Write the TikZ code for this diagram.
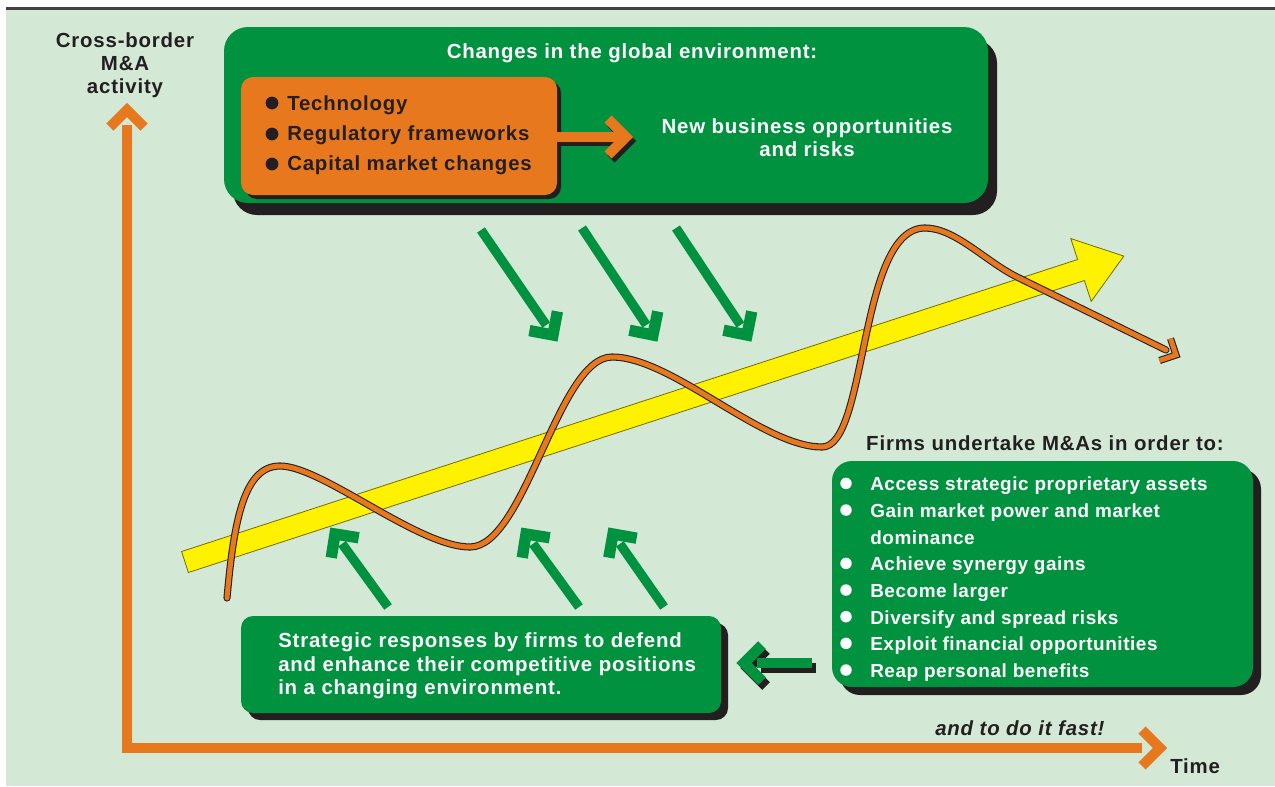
\documentclass[tikz,border=0pt]{standalone}
\usepackage{fontspec}
\setmainfont{Liberation Sans}[LetterSpace=4]
\newfontfamily\listfont{Liberation Sans}[LetterSpace=3]
\usetikzlibrary{calc,shadows}
\definecolor{bggreen}{HTML}{D3E8D5}
\definecolor{boxgreen}{HTML}{00923F}
\definecolor{orng}{HTML}{E8781E}
\definecolor{shad}{HTML}{231F20}
\definecolor{yel}{HTML}{FFF200}
\definecolor{ink}{HTML}{231F20}
\begin{document}
\begin{tikzpicture}[x=0.75pt,y=-0.75pt,
  txt/.style={inner sep=0pt,text=ink,font=\fontsize{15.3}{18}\selectfont\bfseries},
  wtxt/.style={txt,text=white},
  ltxt/.style={inner sep=0pt,text=white,font=\listfont\fontsize{14.2}{17}\selectfont\bfseries},
  panel/.style={fill=boxgreen,draw=none,inner sep=0pt},
  opanel/.style={fill=orng,draw=none,inner sep=0pt},
  axisline/.style={draw=orng,line width=8pt},
  chevo/.style={draw=orng,line width=7.5pt},
  garrow/.style={draw=boxgreen,line width=7pt},
  gchev/.style={draw=boxgreen,line width=8.5pt},
  wave/.style={draw=shad,line width=0.8pt,double=orng,double distance=3.75pt},
]
\useasboundingbox (0,0) rectangle (1275,786);
% background
\fill[white] (0,0) rectangle (1275,786);
\fill[bggreen] (6,10) rectangle (1275,786);
\draw[draw=black!75,line width=2.25pt] (6,8.5) -- (1275,8.5);

% axes
\coordinate (ytop) at (127,125);
\coordinate (orig) at (127,748);
\coordinate (xend) at (1142,748);
\coordinate (ytip) at (127,110);
\coordinate (xtip) at (1160,748);
\draw[axisline] (ytop) -- (orig) -- (xend);
\draw[chevo] ([shift={(-17,17)}]ytip) -- (ytip) -- ([shift={(17,17)}]ytip);
\draw[chevo] ([shift={(-18,-18)}]xtip) -- (xtip) -- ([shift={(-18,18)}]xtip);

\node[txt,anchor=base] (ylab1) at (125,47) {Cross-border};
\node[txt,anchor=base] (ylab2) at (125,70) {M\&A};
\node[txt,anchor=base] (ylab3) at (125,93) {activity};
\node[txt,anchor=base west] (xlab) at (1170,773) {Time};
\node[txt,anchor=base west,font=\fontsize{15.3}{18}\selectfont\bfseries\itshape] (fast) at (935,735) {and to do it fast!};

% yellow trend arrow
\filldraw[fill=yel,draw=black!55!yel,line width=0.6pt]
  (181.6,551.5) -- (1077.6,259.5) -- (1070.8,238.6) -- (1123.8,256.1)
  -- (1091.2,301.4) -- (1084.4,280.5) -- (188.4,572.5) -- cycle;

% wave
\coordinate (wstart) at (227,598);
\coordinate (wend) at (1166,350);
\coordinate (wtip) at (1176,355);
\draw[wave,line cap=round] (wstart)
  .. controls (234,520) and (244,466) .. (280,466)
  .. controls (322,466) and (418,547) .. (470,547)
  .. controls (525,547) and (558,357) .. (612,357)
  .. controls (672,357) and (762,447) .. (822,447)
  .. controls (868,447) and (858,228) .. (925,228)
  .. controls (955,228) and (985,261) .. (1017,277)
  -- (wend);
\draw[wave] ($(wtip)!13pt!45:(wend)$) -- (wtip) -- ($(wtip)!13pt!-45:(wend)$);

% green diagonal arrows
\foreach \n/\sx/\sy/\tx/\ty in {d1/481/230/553/335, d2/582/228/653/335, d3/676/228/747/335,
                                u1/388/607/335/534, u2/579/607/526/534, u3/664/607/613/534}{
  \coordinate (s\n) at (\sx,\sy);
  \coordinate (t\n) at (\tx,\ty);
  \draw[garrow] (s\n) -- ($(t\n)!9pt!(s\n)$);
  \draw[gchev] ($(t\n)!18pt!45:(s\n)$) -- (t\n) -- ($(t\n)!18pt!-45:(s\n)$);
}

% top panel
\node[panel,minimum width=573pt,minimum height=132pt,rounded corners=18pt,
  general shadow={fill=shad,shadow xshift=6.75pt,shadow yshift=-9pt}] (env) at (606,115) {};
\node[opanel,minimum width=237pt,minimum height=88.5pt,rounded corners=9pt,
  general shadow={fill=shad,shadow xshift=3pt,shadow yshift=-3pt}] (orbox) at (399,136) {};
\node[wtxt,anchor=base] (envtitle) at (632,58) {Changes in the global environment:};
\fill[ink] (272,103) circle[radius=4.8pt];
\fill[ink] (272,134) circle[radius=4.8pt];
\fill[ink] (272,164) circle[radius=4.8pt];
\node[txt,anchor=base west] (f1) at (287,110) {Technology};
\node[txt,anchor=base west] (f2) at (287,140) {Regulatory frameworks};
\node[txt,anchor=base west] (f3) at (287,170.5) {Capital market changes};
\node[wtxt,anchor=base] (opp1) at (807,133) {New business opportunities};
\node[wtxt,anchor=base] (opp2) at (807,156) {and risks};

% orange arrow inside top panel
\coordinate (oas) at (557,137);
\coordinate (oae) at (620,137);
\coordinate (oat) at (626,137);
\draw[draw=shad,line width=7.5pt] ([shift={(3,4)}]oas) -- ([shift={(3,4)}]oae);
\draw[draw=shad,line width=7.5pt] ([shift={(-15,-14)}]oat) -- ([shift={(3,4)}]oat) -- ([shift={(-15,22)}]oat);
\draw[draw=orng,line width=7.5pt] (oas) -- (oae);
\draw[chevo] ([shift={(-18,-18)}]oat) -- (oat) -- ([shift={(-18,18)}]oat);

% strategic responses panel
\node[panel,minimum width=360pt,minimum height=72.75pt,rounded corners=9pt,
  general shadow={fill=shad,shadow xshift=5.25pt,shadow yshift=-5.25pt}] (resp) at (481,664.5) {};
\node[wtxt,anchor=base west] (r1) at (278,647) {Strategic responses by firms to defend};
\node[wtxt,anchor=base west] (r2) at (278,671) {and enhance their competitive positions};
\node[wtxt,anchor=base west] (r3) at (278,694) {in a changing environment.};

% motives panel
\node[panel,minimum width=315.75pt,minimum height=169.5pt,rounded corners=15pt,
  general shadow={fill=shad,shadow xshift=6pt,shadow yshift=-6pt}] (mot) at (1042.5,574) {};
\node[txt,anchor=base] (mottitle) at (1045,450) {Firms undertake M\&As in order to:};
\foreach \k in {0,1,3,4,5,6,7}{
  \fill[white] (846,{490.7+26.66*\k-7.3}) circle[radius=4.3pt];
}
\node[ltxt,anchor=base west] (m1) at (870,490.7) {Access strategic proprietary assets};
\node[ltxt,anchor=base west] (m2) at (870,517.4) {Gain market power and market};
\node[ltxt,anchor=base west] (m2b) at (870,544) {dominance};
\node[ltxt,anchor=base west] (m3) at (870,570.7) {Achieve synergy gains};
\node[ltxt,anchor=base west] (m4) at (870,597.3) {Become larger};
\node[ltxt,anchor=base west] (m5) at (870,624) {Diversify and spread risks};
\node[ltxt,anchor=base west] (m6) at (870,650.7) {Exploit financial opportunities};
\node[ltxt,anchor=base west] (m7) at (870,677.3) {Reap personal benefits};

% arrow from motives to responses
\coordinate (las) at (812,663);
\coordinate (lae) at (757,663);
\coordinate (lat) at (744,663);
\draw[draw=shad,line width=7.5pt] ([shift={(4,5)}]las) -- ([shift={(4,5)}]lae);
\draw[draw=shad,line width=8pt] ([shift={(22,-13)}]lat) -- ([shift={(4,5)}]lat) -- ([shift={(22,23)}]lat);
\draw[draw=boxgreen,line width=7.5pt] (las) -- (lae);
\draw[draw=boxgreen,line width=8pt] ([shift={(18,-18)}]lat) -- (lat) -- ([shift={(18,18)}]lat);
\end{tikzpicture}
\end{document}
